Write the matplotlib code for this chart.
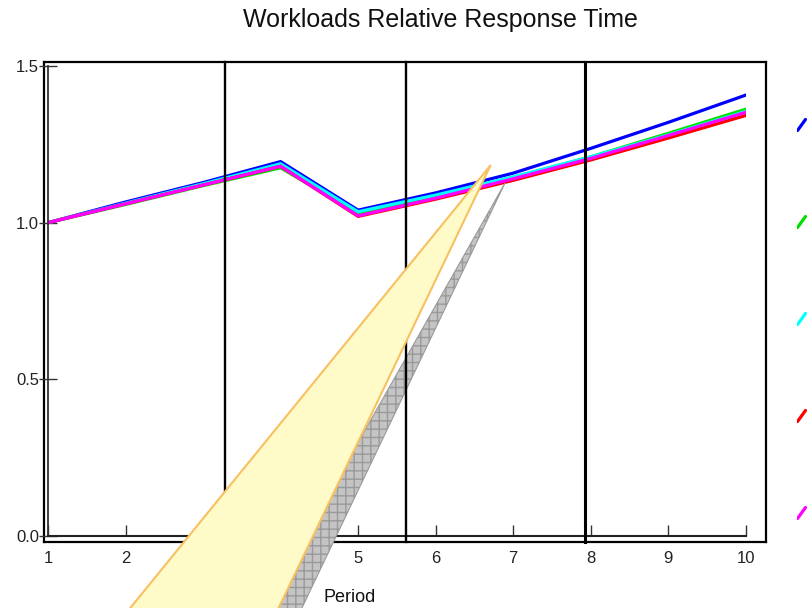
import matplotlib.pyplot as plt
from matplotlib.patches import Polygon
import numpy as np

# values (relative response time per period)
periods = [1, 2, 3, 4, 5, 6, 7, 8, 9, 10]
blue = [1.0, 1.066, 1.128, 1.195, 1.04, 1.095, 1.158, 1.237, 1.32, 1.407]
green = [1.0, 1.058, 1.118, 1.175, 1.03, 1.085, 1.145, 1.21, 1.285, 1.362]
cyan = [1.0, 1.062, 1.124, 1.188, 1.035, 1.088, 1.146, 1.21, 1.28, 1.355]
red = [1.0, 1.06, 1.12, 1.18, 1.02, 1.075, 1.135, 1.2, 1.27, 1.342]
magenta = [1.0, 1.06, 1.12, 1.18, 1.022, 1.078, 1.14, 1.205, 1.278, 1.352]
series = [blue, green, cyan, red, magenta]
colors = ['#0000ff', '#00e000', '#00ffff', '#ff0000', '#ff00ff']
yticks = [0.0, 0.5, 1.0, 1.5]
separators = [3.28, 5.62, 7.93]  # window borders crossing the plot

W, H = 807, 608
narrow = ['Liberation Sans Narrow', 'Liberation Sans', 'DejaVu Sans']

fig = plt.figure(figsize=(W / 100, H / 100), dpi=100)

def px(x0, y0, x1, y1):
    # pixel box -> figure fraction rect
    return [x0 / W, 1 - y1 / H, (x1 - x0) / W, (y1 - y0) / H]

# outer frame
frame = fig.add_axes(px(44, 62, 766, 542))
frame.set_xticks([])
frame.set_yticks([])
for s in frame.spines.values():
    s.set_linewidth(1.6)
    s.set_color('black')

ax = fig.add_axes(px(48, 66, 745.7, 536))
ax.patch.set_visible(False)
for c, vals in zip(colors, series):
    ax.plot(periods, vals, color=c, lw=2.3, solid_joinstyle='miter')
ax.set_xlim(1, 10)
ax.set_ylim(0, 1.5)
ax.set_xticks(periods)
ax.set_yticks(yticks)
ax.set_yticklabels(['%.1f' % v for v in yticks])
ax.spines['top'].set_visible(False)
ax.spines['right'].set_visible(False)
ax.spines['left'].set_color('#333333')
ax.spines['bottom'].set_color('#222222')
ax.spines['left'].set_linewidth(1.3)
ax.spines['bottom'].set_linewidth(1.5)
ax.tick_params(axis='x', direction='in', length=8, width=1, color='#333333', pad=11)
ax.tick_params(axis='y', direction='inout', length=13, width=1, color='#333333', pad=0)
for lab in ax.get_xticklabels() + ax.get_yticklabels():
    lab.set_family(narrow)
    lab.set_fontsize(12)
    lab.set_color('#222222')

for i, xs in enumerate(separators):
    ax.axvline(xs, ymin=-6 / 470, ymax=1 + 4 / 470, color='black',
               lw=2.2 if i == 2 else 1.7, clip_on=False, zorder=2.7)

# callout shape: shadow under the separators, balloon over everything
def to_fig(pts):
    return [(x / W, 1 - y / H) for x, y in pts]

shadow = Polygon(to_fig([(505, 183), (300, 612), (262, 612)]), closed=True,
                 transform=fig.transFigure, facecolor='#c4c4c4', edgecolor='#9a9a9a',
                 hatch='++', lw=0.8, clip_on=False, zorder=2.6)
ax.add_artist(shadow)
balloon = Polygon(to_fig([(490.7, 165), (276.7, 612), (127, 612)]), closed=True,
                  transform=fig.transFigure, facecolor='#fffbc8', edgecolor='#f8c060',
                  lw=1.5, clip_on=False, zorder=10)
fig.add_artist(balloon)

fig.text(440 / W, 1 - 20 / H, 'Workloads Relative Response Time', ha='center', va='center',
         fontsize=18, family=['Liberation Sans', 'DejaVu Sans'], color='#111111')
fig.text(350 / W, 1 - 597 / H, 'Period', ha='center', va='center', fontsize=13,
         family=['Liberation Sans', 'DejaVu Sans'], color='#111111', zorder=11)

# legend samples, cut off at the right edge
leg = fig.add_axes(px(797, 76.5, 807, 561.5))
leg.axis('off')
for i, c in enumerate(colors):
    leg.plot([0.05, 0.85], [i + 0.057, i - 0.057], color=c, lw=2.3,
             solid_capstyle='round')
leg.set_xlim(0, 1)
leg.set_ylim(len(colors) - 0.5, -0.5)

fig.savefig('out.png', dpi=100, facecolor='white')
